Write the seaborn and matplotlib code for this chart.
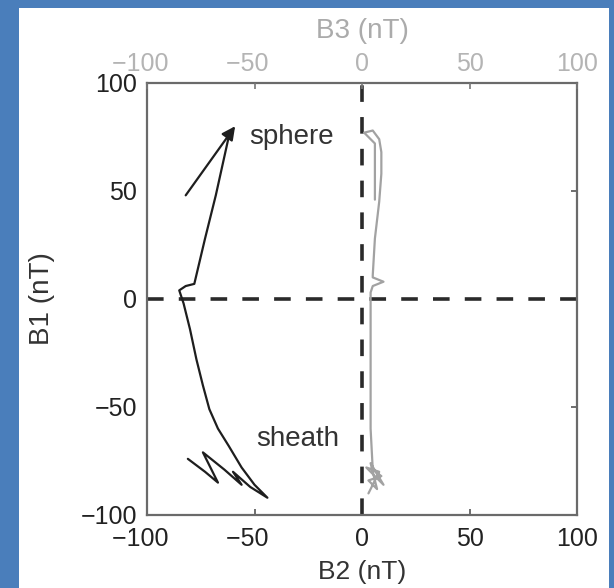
import matplotlib
matplotlib.use("Agg")
import matplotlib.pyplot as plt
import numpy as np
import pandas as pd
import seaborn as sns
from matplotlib.patches import Rectangle

# ---------------- data ----------------
# black trace: B1 versus B2, from magnetosheath (bottom) to magnetosphere (top)
b2_black = [-81, -73, -67, -74, -64, -56, -60, -52, -44, -50, -56, -62, -67,
            -71, -74, -77, -80, -83, -85, -82, -78, -73, -68, -64, -62]
b1_black = [-74, -80, -85, -71, -79, -86, -80, -87, -92, -86, -78, -68, -60,
            -51, -40, -28, -14, -2, 4, 6, 7, 28, 48, 66, 75]
# gray trace: B1 versus B3
b3_gray = [3, 8, 2, 10, 4, 7, 3, 9, 5, 4, 4, 4, 4, 5, 10, 5, 5, 6, 8, 9, 9, 8,
           5, 1, 6, 6, 6]
b1_gray = [-90, -80, -78, -86, -76, -88, -84, -82, -79, -60, -30, -5, 3, 6, 8,
           10, 11, 28, 45, 58, 68, 74, 78, 77, 72, 58, 46]
# direction arrow (B2, B1)
arrow_tail = [-82, 48]
arrow_head = [-59, 80]

ticks = [-100, -50, 0, 50, 100]
# x labels: the minus hangs left of the centred digits (two spaces balance it)
xtick_labels = ["\u2212100  ", "\u221250  ", "0", "50", "100"]
ytick_labels = ["\u2212100", "\u221250", "0", "50", "100"]
xlabel_bottom = "B2 (nT)"
xlabel_top = "B3 (nT)"
ylabel_left = "B1 (nT)"
region_labels = ["sphere", "sheath"]
region_x = [-33, -30]
region_y = [75, -65]

df_black = pd.DataFrame({"B2": b2_black, "B1": b1_black})
df_gray = pd.DataFrame({"B3": b3_gray, "B1": b1_gray})

# ---------------- styling ----------------
sns.set_theme(style="white")
plt.rcParams["font.family"] = ["Liberation Sans", "DejaVu Sans"]

W, H = 614, 588
fig = plt.figure(figsize=(W / 100, H / 100), dpi=100)
fig.patch.set_facecolor("#4a7ebb")
fig.add_artist(Rectangle((19 / W, 0), (609 - 19) / W, (H - 8) / H,
                         transform=fig.transFigure, facecolor="white",
                         edgecolor="none", zorder=0))

left, right, top, bottom = 147, 577, 83, 515
ax = fig.add_axes([left / W, 1 - bottom / H, (right - left) / W, (bottom - top) / H])
ax.set_facecolor("white")

dash_kw = dict(color="#2a2a2a", lw=2.6, dashes=(4.6, 4.2), zorder=1)
ax.axhline(0, **dash_kw)
ax.axvline(0, **dash_kw)

sns.lineplot(data=df_black, x="B2", y="B1", sort=False, estimator=None,
             color="#1e1e1e", lw=1.6, ax=ax, zorder=3)
ax.annotate("", xy=arrow_head, xytext=arrow_tail,
            arrowprops=dict(arrowstyle="-|>", color="#1e1e1e", lw=1.6,
                            mutation_scale=20, shrinkA=0, shrinkB=0), zorder=4)

for txt, tx, ty in zip(region_labels, region_x, region_y):
    ax.text(tx, ty, txt, ha="center", va="center", fontsize=20, color="#333333")

ax.set_xlim(-100, 100)
ax.set_ylim(-100, 100)
ax.set_xticks(ticks)
ax.set_xticklabels(xtick_labels)
ax.set_yticks(ticks)
ax.set_yticklabels(ytick_labels)
ax.tick_params(axis="both", direction="in", length=4, width=1.2, color="#555555",
               labelsize=18, labelcolor="#222222")
ax.tick_params(axis="y", right=True, pad=7)
ax.tick_params(axis="x", bottom=True, pad=9)

ax.set_xlabel(xlabel_bottom, fontsize=19, color="#333333")
ax.set_ylabel(ylabel_left, fontsize=20, color="#333333")
ax.xaxis.set_label_coords(0.5, (bottom - 572) / (bottom - top))
ax.xaxis.label.set_va("center")
ax.yaxis.set_label_coords((42 - left) / (right - left), 0.5)
ax.yaxis.label.set_va("center")

for sp in ax.spines.values():
    sp.set_visible(True)
    sp.set_color("#6a6a6a")
    sp.set_linewidth(1.6)

# top axis for B3
ax2 = ax.twiny()
sns.lineplot(data=df_gray, x="B3", y="B1", sort=False, estimator=None,
             color="#a2a2a2", lw=1.6, ax=ax2, zorder=2)
ax2.set_xlim(-100, 100)
ax2.set_ylim(-100, 100)
ax2.set_xticks(ticks)
ax2.set_xticklabels(xtick_labels)
ax2.tick_params(axis="x", direction="in", length=4, width=1.2, color="#777777",
                labelsize=18, labelcolor="#b4b4b4", pad=5)
ax2.set_xlabel(xlabel_top, fontsize=20, color="#ababab")
ax2.xaxis.set_label_coords(0.5, (bottom - 31) / (bottom - top))
ax2.xaxis.label.set_va("center")
ax2.set_ylabel("")
for sp in ax2.spines.values():
    sp.set_visible(False)

fig.savefig("out.png", dpi=100, facecolor=fig.get_facecolor())
